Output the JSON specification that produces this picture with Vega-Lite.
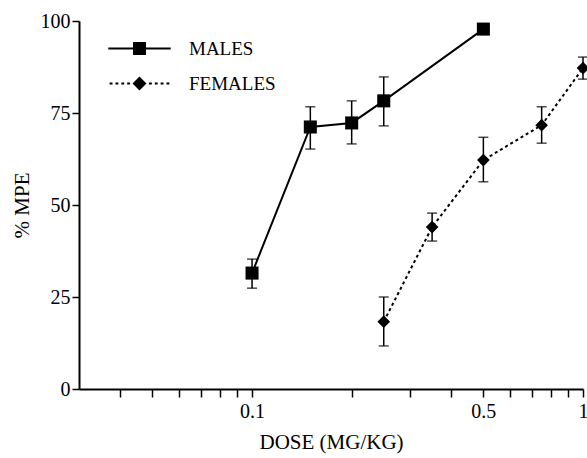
{
  "$schema": "https://vega.github.io/schema/vega-lite/v6.json",
  "width": 504,
  "height": 368,
  "autosize": {"type": "none"},
  "padding": {"left": 79, "top": 21, "right": 4, "bottom": 69},
  "background": "white",
  "config": {
    "view": {"stroke": null},
    "font": "Liberation Serif",
    "axis": {"domainColor": "black", "domainWidth": 2, "tickColor": "black", "tickWidth": 1.5, "labelColor": "black", "titleColor": "black", "labelFont": "Liberation Serif", "titleFont": "Liberation Serif", "labelFontSize": 20, "titleFontSize": 21, "titleFontWeight": "normal", "grid": false},
    "legend": {"labelFont": "Liberation Serif", "labelFontSize": 19, "labelColor": "black"}
  },
  "data": {
    "values": [
      {"sex": "MALES", "dose": 0.1, "mpe": 31.5, "lo": 27.4, "hi": 35.3},
      {"sex": "MALES", "dose": 0.15, "mpe": 71.2, "lo": 65.2, "hi": 76.7},
      {"sex": "MALES", "dose": 0.2, "mpe": 72.3, "lo": 66.6, "hi": 78.3},
      {"sex": "MALES", "dose": 0.25, "mpe": 78.3, "lo": 71.5, "hi": 84.8},
      {"sex": "MALES", "dose": 0.5, "mpe": 97.8, "lo": null, "hi": null},
      {"sex": "FEMALES", "dose": 0.25, "mpe": 18.3, "lo": 11.7, "hi": 25.0},
      {"sex": "FEMALES", "dose": 0.35, "mpe": 44.0, "lo": 40.2, "hi": 47.8},
      {"sex": "FEMALES", "dose": 0.5, "mpe": 62.2, "lo": 56.3, "hi": 68.4},
      {"sex": "FEMALES", "dose": 0.75, "mpe": 71.7, "lo": 66.8, "hi": 76.7},
      {"sex": "FEMALES", "dose": 1.0, "mpe": 87.2, "lo": 84.2, "hi": 90.2}
    ]
  },
  "encoding": {
    "x": {
      "field": "dose", "type": "quantitative",
      "scale": {"type": "log", "domain": [0.03, 1], "nice": false},
      "axis": {
        "title": "DOSE (MG/KG)",
        "values": [0.04, 0.05, 0.06, 0.07, 0.08, 0.09, 0.1, 0.2, 0.3, 0.4, 0.5, 0.6, 0.7, 0.8, 0.9, 1],
        "labelExpr": "datum.value == 0.1 ? '0.1' : datum.value == 0.5 ? '0.5' : datum.value == 1 ? '1' : ''",
        "tickSize": 8, "labelPadding": 4, "titlePadding": 10, "labelFlush": false, "labelOverlap": false,
        "encode": {
          "ticks": {"update": {"y2": {"signal": "(datum.value == 0.1 || datum.value == 0.5 || datum.value == 1) ? 8 : 4"}}},
          "labels": {"update": {"dx": {"signal": "datum.value == 1 ? -2 : 0"}}}
        }
      }
    },
    "y": {
      "type": "quantitative",
      "scale": {"domain": [0, 100], "nice": false},
      "axis": {"title": "% MPE", "values": [0, 25, 50, 75, 100], "tickSize": 7, "labelPadding": 2, "titlePadding": 8}
    }
  },
  "layer": [
    {
      "mark": {"type": "rule", "color": "black", "strokeWidth": 1.5},
      "encoding": {"y": {"field": "lo"}, "y2": {"field": "hi"}}
    },
    {
      "mark": {"type": "tick", "orient": "horizontal", "color": "black", "size": 10, "thickness": 1.5},
      "encoding": {"y": {"field": "lo"}}
    },
    {
      "mark": {"type": "tick", "orient": "horizontal", "color": "black", "size": 10, "thickness": 1.5},
      "encoding": {"y": {"field": "hi"}}
    },
    {
      "transform": [{"filter": "datum.sex == 'MALES'"}],
      "mark": {"type": "line", "color": "black", "strokeWidth": 2},
      "encoding": {"y": {"field": "mpe"}}
    },
    {
      "transform": [{"filter": "datum.sex == 'FEMALES'"}],
      "mark": {"type": "line", "color": "black", "strokeWidth": 2, "strokeDash": [3, 3]},
      "encoding": {"y": {"field": "mpe"}}
    },
    {
      "transform": [{"filter": "datum.sex == 'MALES'"}],
      "mark": {"type": "point", "shape": "square", "filled": true, "color": "black", "size": 170, "opacity": 1},
      "encoding": {"y": {"field": "mpe"}}
    },
    {
      "transform": [{"filter": "datum.sex == 'FEMALES'"}],
      "mark": {"type": "point", "shape": "diamond", "filled": true, "color": "black", "size": 160, "opacity": 1},
      "encoding": {"y": {"field": "mpe"}}
    },
    {
      "mark": {"type": "point", "filled": false, "color": "black", "strokeWidth": 2, "opacity": 0, "size": 169},
      "encoding": {
        "y": {"field": "mpe"},
        "shape": {
          "field": "sex", "type": "nominal",
          "scale": {
            "domain": ["MALES", "FEMALES"],
            "range": [
              "M-4.8,0L4.8,0M-0.85,-0.85L0.85,-0.85L0.85,0.85L-0.85,0.85ZM-0.55,-0.55L0.55,-0.55L0.55,0.55L-0.55,0.55ZM-0.25,-0.25L0.25,-0.25L0.25,0.25L-0.25,0.25ZM0,-0.3L0,0.3",
              "M-4.6,0L-4.15,0M-3.7,0L-3.25,0M-2.8,0L-2.35,0M-1.9,0L-1.45,0M1.45,0L1.9,0M2.35,0L2.8,0M3.25,0L3.7,0M4.15,0L4.6,0M0,-0.85L0.85,0L0,0.85L-0.85,0ZM0,-0.5L0.5,0L0,0.5L-0.5,0ZM0,-0.15L0.15,0L0,0.15L-0.15,0ZM-0.85,0L0.85,0M0,-0.3L0,0.3"
            ]
          },
          "legend": {
            "title": null, "orient": "none", "legendX": 51, "legendY": 18,
            "symbolSize": 169, "symbolOpacity": 1, "symbolStrokeColor": "black", "symbolStrokeWidth": 2,
            "labelOffset": 40, "rowPadding": 14, "padding": 0
          }
        }
      }
    }
  ]
}
